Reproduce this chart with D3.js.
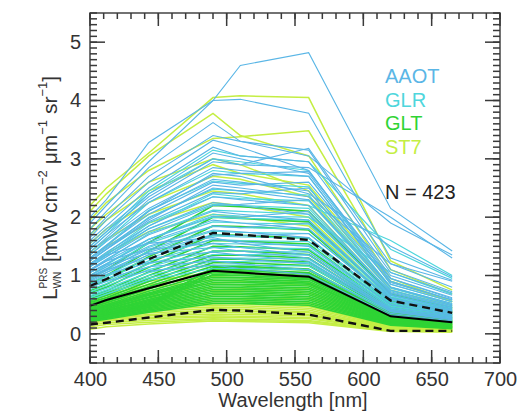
<!DOCTYPE html>
<html>
<head>
<meta charset="utf-8">
<script src="https://cdn.jsdelivr.net/npm/d3@7"></script>
<style>
  body { margin: 0; background: #fff; }
  text { font-family: "Liberation Sans", Arial, sans-serif; }
</style>
</head>
<body>
<div id="chart"></div>
<script>
// bands [nm]
const wavelengths = [400, 412, 443, 490, 510, 560, 620, 665];

// spectra per site
const aaot = [
  [2.00, 2.30, 3.28, 4.00, 4.60, 4.82, 2.15, 1.42],
  [1.90, 2.20, 2.95, 4.00, 4.02, 3.78, 1.30, 0.92],
  [1.80, 2.10, 2.85, 3.62, 3.30, 3.05, 1.90, 1.35],
  [1.70, 2.00, 2.70, 3.40, 3.30, 3.15, 1.10, 0.72],
  [1.65, 1.95, 2.60, 3.32, 3.20, 2.80, 0.95, 0.60],
  [1.60, 1.85, 2.50, 3.20, 3.05, 2.95, 1.05, 0.70],
  [1.55, 1.80, 2.40, 3.10, 3.00, 2.75, 0.90, 0.58],
  [1.50, 1.75, 2.35, 3.00, 2.90, 3.18, 1.20, 0.80],
  [1.45, 1.70, 2.25, 2.85, 2.80, 2.70, 0.85, 0.55],
  [1.40, 1.62, 2.15, 2.72, 2.75, 2.78, 1.00, 0.66],
  [1.35, 1.58, 2.10, 2.65, 2.60, 2.45, 0.80, 0.50],
  [1.30, 1.52, 2.05, 2.60, 2.55, 2.60, 0.95, 0.62],
  [1.28, 1.48, 1.98, 2.50, 2.45, 2.30, 0.75, 0.48],
  [1.25, 1.45, 1.92, 2.42, 2.40, 2.50, 0.88, 0.58],
  [1.20, 1.40, 1.85, 2.35, 2.30, 2.20, 0.70, 0.45],
  [1.18, 1.36, 1.80, 2.25, 2.20, 2.05, 0.68, 0.42],
  [1.15, 1.32, 1.75, 2.20, 2.22, 2.30, 0.80, 0.52],
  [1.10, 1.28, 1.70, 2.10, 2.05, 1.95, 0.62, 0.40],
  [1.08, 1.25, 1.62, 2.02, 2.00, 2.10, 0.72, 0.46],
  [1.05, 1.20, 1.58, 1.95, 1.90, 1.80, 0.58, 0.36],
  [1.00, 1.15, 1.50, 1.85, 1.82, 1.90, 0.66, 0.42],
  [0.98, 1.12, 1.45, 1.78, 1.75, 1.65, 0.55, 0.34],
  [0.95, 1.08, 1.40, 1.70, 1.68, 1.72, 0.60, 0.38],
  [0.92, 1.05, 1.35, 1.62, 1.58, 1.50, 0.50, 0.32],
  [1.20, 1.35, 1.55, 1.65, 1.55, 1.40, 0.45, 0.30],
  [1.10, 1.25, 1.45, 1.55, 1.48, 1.35, 0.42, 0.28],
  [1.05, 1.18, 1.38, 1.48, 1.42, 1.30, 0.40, 0.26],
  [0.98, 1.10, 1.30, 1.40, 1.35, 1.25, 0.40, 0.25],
  [0.90, 1.02, 1.22, 1.32, 1.28, 1.20, 0.38, 0.24],
  [0.85, 0.95, 1.15, 1.25, 1.20, 1.10, 0.35, 0.22],
  [0.80, 0.90, 1.08, 1.18, 1.12, 1.02, 0.32, 0.20],
  [1.40, 1.65, 2.30, 2.95, 2.90, 2.85, 2.00, 1.30],
  [1.30, 1.50, 2.10, 2.75, 2.70, 2.40, 1.50, 0.98],
  [1.25, 1.45, 1.95, 2.55, 2.50, 2.35, 1.20, 0.90]
];

const glr = [
  [1.45, 1.70, 2.40, 3.00, 2.95, 2.80, 0.90, 0.58],
  [1.35, 1.60, 2.25, 2.80, 2.75, 2.70, 0.85, 0.55],
  [1.30, 1.52, 2.12, 2.62, 2.58, 2.52, 0.80, 0.52],
  [1.25, 1.45, 2.00, 2.48, 2.45, 2.38, 0.78, 0.50],
  [1.20, 1.38, 1.90, 2.35, 2.32, 2.28, 0.74, 0.48],
  [1.15, 1.32, 1.80, 2.22, 2.20, 2.15, 0.70, 0.46],
  [1.10, 1.26, 1.72, 2.12, 2.10, 2.05, 0.66, 0.44],
  [1.05, 1.20, 1.62, 2.00, 1.98, 1.95, 0.64, 0.42],
  [1.00, 1.15, 1.55, 1.92, 1.90, 1.88, 0.62, 0.40],
  [0.95, 1.10, 1.48, 1.84, 1.82, 1.80, 0.60, 0.40],
  [0.92, 1.05, 1.42, 1.76, 1.74, 1.72, 0.58, 0.38],
  [0.88, 1.00, 1.36, 1.68, 1.66, 1.64, 0.55, 0.36],
  [0.85, 0.98, 1.30, 1.62, 1.60, 1.58, 0.54, 0.36],
  [0.82, 0.94, 1.25, 1.55, 1.54, 1.52, 0.52, 0.34],
  [0.80, 0.90, 1.20, 1.48, 1.48, 1.46, 0.50, 0.33],
  [0.76, 0.86, 1.15, 1.42, 1.42, 1.40, 0.48, 0.32],
  [0.72, 0.82, 1.10, 1.36, 1.36, 1.35, 0.46, 0.30],
  [0.68, 0.78, 1.05, 1.30, 1.30, 1.28, 0.44, 0.30],
  [0.65, 0.75, 1.00, 1.24, 1.24, 1.22, 0.42, 0.28],
  [0.62, 0.72, 0.96, 1.18, 1.18, 1.16, 0.40, 0.27],
  [0.58, 0.68, 0.92, 1.12, 1.12, 1.10, 0.38, 0.26],
  [1.50, 1.75, 2.45, 3.15, 3.05, 2.95, 1.45, 0.95],
  [1.15, 1.35, 1.85, 2.40, 2.35, 2.20, 1.60, 1.00],
  [1.00, 1.18, 1.62, 2.05, 2.02, 2.00, 1.05, 0.68]
];

const glt = [
  [0.95, 1.10, 1.56, 2.20, 2.18, 2.10, 0.68, 0.44],
  [0.86, 1.00, 1.42, 2.00, 1.98, 1.92, 0.62, 0.40],
  [0.80, 0.92, 1.32, 1.85, 1.84, 1.78, 0.57, 0.37],
  [0.74, 0.85, 1.21, 1.70, 1.69, 1.64, 0.52, 0.34],
  [0.70, 0.80, 1.14, 1.60, 1.59, 1.54, 0.49, 0.32],
  [0.64, 0.74, 1.06, 1.50, 1.49, 1.44, 0.46, 0.30],
  [0.60, 0.70, 1.00, 1.42, 1.42, 1.36, 0.43, 0.28],
  [0.57, 0.66, 0.95, 1.35, 1.35, 1.30, 0.41, 0.27],
  [0.54, 0.62, 0.90, 1.28, 1.28, 1.23, 0.39, 0.26],
  [0.51, 0.59, 0.85, 1.22, 1.22, 1.17, 0.37, 0.24],
  [0.48, 0.56, 0.81, 1.16, 1.16, 1.11, 0.35, 0.23],
  [0.45, 0.53, 0.77, 1.10, 1.10, 1.05, 0.33, 0.22],
  [0.43, 0.50, 0.73, 1.05, 1.05, 1.00, 0.32, 0.21],
  [0.41, 0.48, 0.70, 1.00, 1.00, 0.95, 0.30, 0.20],
  [0.40, 0.47, 0.68, 0.97, 0.97, 0.93, 0.29, 0.19],
  [0.39, 0.45, 0.66, 0.94, 0.94, 0.90, 0.28, 0.19],
  [0.37, 0.43, 0.63, 0.91, 0.91, 0.87, 0.27, 0.18],
  [0.36, 0.42, 0.62, 0.88, 0.88, 0.85, 0.27, 0.18],
  [0.34, 0.40, 0.59, 0.85, 0.85, 0.82, 0.26, 0.17],
  [0.33, 0.39, 0.57, 0.82, 0.82, 0.79, 0.25, 0.16],
  [0.32, 0.38, 0.55, 0.79, 0.79, 0.76, 0.24, 0.16],
  [0.30, 0.36, 0.53, 0.76, 0.76, 0.73, 0.23, 0.15],
  [0.29, 0.35, 0.51, 0.73, 0.73, 0.70, 0.22, 0.14],
  [0.28, 0.34, 0.49, 0.70, 0.70, 0.67, 0.21, 0.13],
  [0.27, 0.32, 0.47, 0.67, 0.67, 0.64, 0.20, 0.13],
  [0.26, 0.31, 0.45, 0.64, 0.64, 0.61, 0.19, 0.12],
  [0.25, 0.30, 0.43, 0.61, 0.61, 0.58, 0.18, 0.11],
  [0.24, 0.28, 0.41, 0.58, 0.58, 0.55, 0.17, 0.10],
  [0.22, 0.27, 0.39, 0.55, 0.55, 0.52, 0.16, 0.10],
  [0.21, 0.25, 0.37, 0.52, 0.52, 0.49, 0.15, 0.09],
  [0.27, 0.33, 0.52, 1.13, 1.14, 1.09, 0.34, 0.22],
  [0.25, 0.31, 0.49, 1.07, 1.08, 1.03, 0.32, 0.21],
  [0.24, 0.30, 0.47, 1.02, 1.03, 0.98, 0.30, 0.20]
];

const st7 = [
  [2.20, 2.50, 3.10, 4.05, 4.08, 4.05, 1.25, 0.75],
  [2.10, 2.40, 3.05, 3.78, 3.40, 3.05, 0.95, 0.55],
  [1.95, 2.25, 2.80, 3.35, 3.38, 3.48, 1.10, 0.68],
  [1.80, 2.05, 2.60, 3.00, 2.90, 2.45, 0.80, 0.48],
  [1.70, 1.95, 2.45, 2.90, 2.75, 2.55, 0.90, 0.55],
  [1.55, 1.80, 2.25, 2.70, 2.65, 2.35, 0.75, 0.45],
  [1.40, 1.62, 2.05, 2.45, 2.40, 2.20, 0.70, 0.42],
  [1.30, 1.50, 1.90, 2.25, 2.20, 2.00, 0.62, 0.38],
  [1.20, 1.38, 1.75, 2.05, 2.00, 1.85, 0.58, 0.36],
  [0.58, 0.70, 0.90, 1.05, 1.03, 0.95, 0.26, 0.16],
  [0.55, 0.66, 0.84, 0.98, 0.96, 0.88, 0.25, 0.15],
  [0.52, 0.62, 0.79, 0.92, 0.90, 0.83, 0.23, 0.14],
  [0.49, 0.58, 0.74, 0.86, 0.84, 0.77, 0.22, 0.13],
  [0.46, 0.55, 0.70, 0.80, 0.78, 0.72, 0.20, 0.12],
  [0.44, 0.52, 0.66, 0.75, 0.74, 0.68, 0.19, 0.11],
  [0.42, 0.50, 0.62, 0.70, 0.69, 0.63, 0.18, 0.10],
  [0.40, 0.47, 0.58, 0.65, 0.64, 0.59, 0.16, 0.10],
  [0.38, 0.44, 0.54, 0.60, 0.59, 0.54, 0.15, 0.09],
  [0.36, 0.42, 0.51, 0.56, 0.55, 0.50, 0.14, 0.08],
  [0.34, 0.40, 0.48, 0.52, 0.51, 0.47, 0.13, 0.08],
  [0.32, 0.37, 0.45, 0.49, 0.48, 0.44, 0.12, 0.07],
  [0.30, 0.35, 0.42, 0.46, 0.45, 0.41, 0.11, 0.07],
  [0.28, 0.33, 0.39, 0.43, 0.42, 0.38, 0.10, 0.06],
  [0.26, 0.30, 0.36, 0.40, 0.39, 0.36, 0.10, 0.06],
  [0.24, 0.28, 0.33, 0.37, 0.36, 0.33, 0.09, 0.06],
  [0.22, 0.26, 0.31, 0.34, 0.33, 0.31, 0.09, 0.05],
  [0.20, 0.24, 0.28, 0.31, 0.30, 0.28, 0.08, 0.05],
  [0.18, 0.22, 0.26, 0.29, 0.28, 0.26, 0.07, 0.04],
  [0.15, 0.19, 0.23, 0.26, 0.25, 0.23, 0.06, 0.04],
  [0.12, 0.16, 0.20, 0.24, 0.23, 0.21, 0.05, 0.03],
  [0.08, 0.12, 0.17, 0.22, 0.21, 0.19, 0.04, 0.03]
];

// mean and spread lines
const meanSpec  = [0.48, 0.58, 0.78, 1.08, 1.05, 0.98, 0.30, 0.20];
const upperSpec = [0.82, 0.94, 1.28, 1.73, 1.70, 1.61, 0.57, 0.36];
const lowerSpec = [0.16, 0.19, 0.28, 0.41, 0.40, 0.33, 0.05, 0.05];

const siteNames = ["AAOT", "GLR", "GLT", "ST7"];
const nLabel = "N = 423";

const xMajor = [400, 450, 500, 550, 600, 650, 700];
const yMajor = [0, 1, 2, 3, 4, 5];

const width = 518, height = 416;
const mLeft = 90, mRight = 500, mTop = 13, mBottom = 363;

const colors = ["#5ab6e6", "#4ed6dc", "#2fd435", "#c4ee44"];
const strokeW = [1.1, 1.2, 1.7, 1.5];
const spectra = [aaot, glr, glt, st7];
const drawOrder = [3, 2, 1, 0];

const svg = d3.select("#chart").append("svg")
  .attr("width", width)
  .attr("height", height);

const x = d3.scaleLinear().domain([400, 700]).range([mLeft, mRight]);
const y = d3.scaleLinear().domain([-0.5, 5.5]).range([mBottom, mTop]);

const line = d3.line()
  .x((d, i) => x(wavelengths[i]))
  .y(d => y(d));

const plot = svg.append("g");

drawOrder.forEach(k => {
  plot.append("g")
    .selectAll("path")
    .data(spectra[k])
    .enter()
    .append("path")
    .attr("d", line)
    .attr("fill", "none")
    .attr("stroke", colors[k])
    .attr("stroke-width", strokeW[k]);
});

plot.append("path")
  .attr("d", line(meanSpec))
  .attr("fill", "none")
  .attr("stroke", "#000")
  .attr("stroke-width", 2);

[upperSpec, lowerSpec].forEach(s => {
  plot.append("path")
    .attr("d", line(s))
    .attr("fill", "none")
    .attr("stroke", "#111")
    .attr("stroke-width", 2.4)
    .attr("stroke-dasharray", "8,5");
});

svg.append("rect")
  .attr("x", mLeft).attr("y", mTop)
  .attr("width", mRight - mLeft).attr("height", mBottom - mTop)
  .attr("fill", "none")
  .attr("stroke", "#444")
  .attr("stroke-width", 1.5);

// ticks, pointing inward on all four sides
const xMinor = d3.range(400, 701, 10);
const yMinor = d3.range(-5, 56).map(i => i / 10);
const tickColor = "#3a3a3a";
const ticks = svg.append("g");

function xTicks(vals, len, yPos, dir) {
  ticks.append("g").selectAll("rect").data(vals).enter().append("rect")
    .attr("x", v => x(v) - 0.75).attr("width", 1.5)
    .attr("y", dir > 0 ? yPos : yPos - len).attr("height", len)
    .attr("fill", tickColor);
}
function yTicks(vals, len, xPos, dir) {
  ticks.append("g").selectAll("rect").data(vals).enter().append("rect")
    .attr("y", v => y(v) - 0.75).attr("height", 1.5)
    .attr("x", dir > 0 ? xPos : xPos - len).attr("width", len)
    .attr("fill", tickColor);
}
xTicks(xMinor, 6, mBottom, -1);
xTicks(xMajor, 13, mBottom, -1);
xTicks(xMinor, 6, mTop, 1);
xTicks(xMajor, 13, mTop, 1);
yTicks(yMinor, 7, mLeft, 1);
yTicks(yMajor, 15, mLeft, 1);
yTicks(yMinor, 7, mRight, -1);
yTicks(yMajor, 15, mRight, -1);

// tick labels through the axis generators
svg.append("g").attr("transform", `translate(0,${mBottom})`)
  .call(d3.axisBottom(x).tickValues(xMajor).tickSize(0).tickPadding(23).tickFormat(d3.format("d")))
  .call(g => g.select(".domain").remove())
  .call(g => g.selectAll("text").attr("fill", "#333").attr("dy", null)
    .style("font-size", "20px").style("font-family", "'Liberation Sans', Arial, sans-serif"));

svg.append("g").attr("transform", `translate(${mLeft},0)`)
  .call(d3.axisLeft(y).tickValues(yMajor).tickSize(0).tickPadding(9).tickFormat(d3.format("d")))
  .call(g => g.select(".domain").remove())
  .call(g => g.selectAll("text").attr("fill", "#333")
    .style("font-size", "20px").style("font-family", "'Liberation Sans', Arial, sans-serif"));

// legend
svg.append("g")
  .selectAll("text")
  .data(siteNames)
  .enter()
  .append("text")
  .attr("x", 385)
  .attr("y", (d, i) => 83 + i * 23.5)
  .attr("fill", (d, i) => colors[i])
  .style("font-size", "20px")
  .text(d => d);

svg.append("text")
  .attr("x", 385).attr("y", 199)
  .attr("fill", "#222")
  .style("font-size", "20px")
  .text(nLabel);

// x title
svg.append("text")
  .attr("x", (mLeft + mRight) / 2 - 2)
  .attr("y", 407)
  .attr("text-anchor", "middle")
  .attr("fill", "#333")
  .style("font-size", "20px")
  .text("Wavelength [nm]");

// y title, built piece by piece
const nb = "\u00a0";
const yt = svg.append("g");
const parts = [
  { t: "L", s: 21, dy: 0 },
  { t: "PRS", s: 10, dy: -10, stack: true },
  { t: "WN", s: 10, dy: 4, stackLow: true },
  { t: nb + "[mW" + nb + "cm", s: 21, dy: 0 },
  { t: "\u22122", s: 13, dy: -10 },
  { t: nb + "\u03bcm", s: 21, dy: 0 },
  { t: "\u22121", s: 13, dy: -10 },
  { t: nb + "sr", s: 21, dy: 0 },
  { t: "\u22121", s: 13, dy: -10 },
  { t: "]", s: 21, dy: 0 }
];
let pos = 0, stackStart = 0, stackW = 0;
parts.forEach(p => {
  const px = p.stackLow ? stackStart : pos;
  const el = yt.append("text")
    .attr("x", px).attr("y", p.dy)
    .attr("fill", "#333")
    .style("font-size", p.s + "px")
    .text(p.t);
  const w = el.node().getComputedTextLength();
  if (p.stack) { stackStart = pos; stackW = w; pos += w; }
  else if (p.stackLow) { pos = stackStart + Math.max(stackW, w); }
  else pos += w;
});
yt.attr("transform", `translate(57,${188 + pos / 2}) rotate(-90)`);
</script>
</body>
</html>
